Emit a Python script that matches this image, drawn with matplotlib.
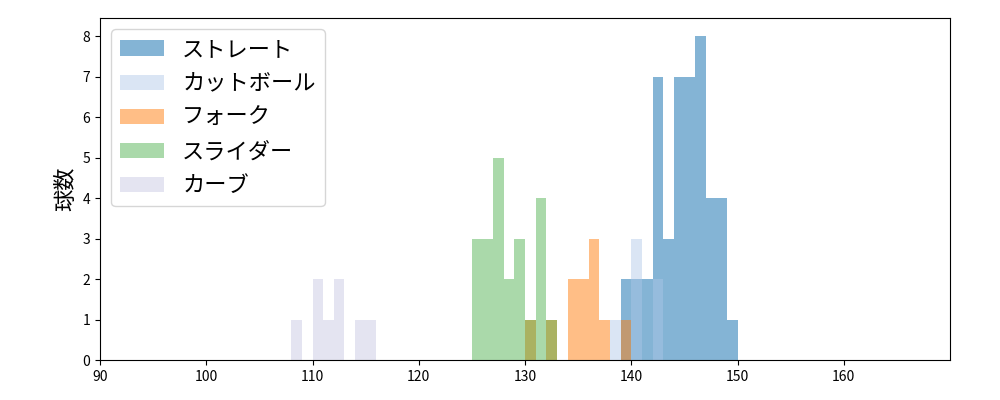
import matplotlib.pyplot as plt
import numpy as np

plt.rcParams['font.family'] = ['Noto Sans CJK JP', 'DejaVu Sans']

# speed (km/h) -> count, one bin per 1 km/h
straight_speed = [139, 140, 141, 142, 143, 144, 145, 146, 147, 148, 149]
straight_count = [2, 2, 2, 7, 3, 7, 7, 8, 4, 4, 1]
cutter_speed = [138, 140, 142]
cutter_count = [1, 3, 2]
fork_speed = [130, 132, 134, 135, 136, 137, 139]
fork_count = [1, 1, 2, 2, 3, 1, 1]
slider_speed = [125, 126, 127, 128, 129, 130, 131, 132]
slider_count = [3, 3, 5, 2, 3, 1, 4, 1]
curve_speed = [108, 110, 111, 112, 114, 115]
curve_count = [1, 2, 1, 2, 1, 1]

series = [
    ("ストレート", straight_speed, straight_count, "#1f77b4", 0.55),
    ("カットボール", cutter_speed, cutter_count, "#aec7e8", 0.45),
    ("フォーク", fork_speed, fork_count, "#ff7f0e", 0.5),
    ("スライダー", slider_speed, slider_count, "#2ca02c", 0.4),
    ("カーブ", curve_speed, curve_count, "#c5c5e0", 0.45),
]

fig, ax = plt.subplots(figsize=(10, 4), dpi=100)
bins = np.arange(90, 171, 1)
for name, sp, cnt, col, a in series:
    ax.hist(sp, bins=bins, weights=cnt, color=col, alpha=a, label=name)

ax.set_xlim(90, 170)
ax.set_ylim(0, 8.45)
ax.set_xticks(range(90, 170, 10))
ax.set_yticks(range(0, 9))
ax.set_ylabel("球数", fontsize=16)
ax.legend(loc="upper left", fontsize=16)
plt.subplots_adjust(left=0.1, right=0.95, top=0.955, bottom=0.1)
plt.savefig("out.png")
